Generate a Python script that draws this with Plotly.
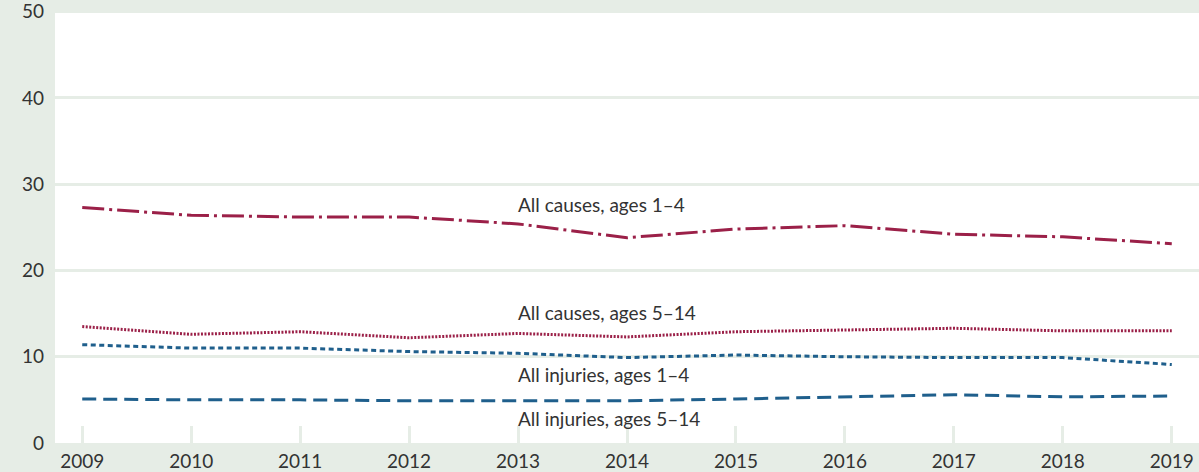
import plotly.graph_objects as go

years = list(range(2009, 2020))
causes_1_4 = [27.3, 26.4, 26.2, 26.2, 25.4, 23.8, 24.8, 25.2, 24.2, 23.9, 23.1]
causes_5_14 = [13.5, 12.6, 12.9, 12.2, 12.7, 12.3, 12.9, 13.1, 13.3, 13.0, 13.0]
injuries_1_4 = [11.4, 11.0, 11.0, 10.6, 10.4, 9.9, 10.2, 10.0, 9.9, 9.9, 9.1]
injuries_5_14 = [5.1, 5.0, 5.0, 4.9, 4.9, 4.9, 5.1, 5.35, 5.6, 5.35, 5.45]

label_names = ["All causes, ages 1\u20134", "All causes, ages 5\u201314",
               "All injuries, ages 1\u20134", "All injuries, ages 5\u201314"]
label_y = [27.6, 15.1, 8.0, 2.8]
label_x = 2012.98

CRIMSON = "#9b2048"
BLUE = "#1f5f8c"
TEXT = "#333333"
BG = "#e6ede6"
FONT = "Lato, 'DejaVu Sans', sans-serif"

fig = go.Figure()
series = [
    (causes_1_4, CRIMSON, "22px,5px,3px,5px"),
    (causes_5_14, CRIMSON, "2px,1.5px"),
    (injuries_1_4, BLUE, "5px,3.5px"),
    (injuries_5_14, BLUE, "14px,7px"),
]
for vals, col, dash in series:
    fig.add_trace(go.Scatter(x=years, y=vals, mode="lines",
                             line=dict(color=col, width=3, dash=dash),
                             hoverinfo="skip", showlegend=False))

for name, yv in zip(label_names, label_y):
    fig.add_annotation(x=label_x, y=yv, text=name, showarrow=False,
                       xanchor="left", yanchor="middle",
                       font=dict(size=19, color=TEXT, family=FONT))

fig.update_layout(
    width=1199, height=472,
    margin=dict(l=55, r=0, t=10, b=29, pad=0, autoexpand=False),
    paper_bgcolor=BG, plot_bgcolor="white",
    font=dict(family=FONT, size=19, color=TEXT),
    showlegend=False,
)
fig.update_xaxes(range=[2008.75, 2019.25], tickvals=years, automargin=False,
                 showgrid=False, zeroline=False, showline=False,
                 ticks="inside", ticklen=17, tickwidth=3, tickcolor=BG,
                 ticklabelstandoff=5, ticklabeloverflow="allow",
                 tickfont=dict(size=19, color=TEXT, family=FONT))
fig.update_yaxes(range=[0, 50.2], tickvals=[0, 10, 20, 30, 40, 50], automargin=False,
                 showgrid=True, gridcolor=BG, gridwidth=3,
                 zeroline=False, showline=False, ticklabelstandoff=10,
                 ticklabeloverflow="allow",
                 tickfont=dict(size=19, color=TEXT, family=FONT))

fig.write_html("out.html",
               config={"displayModeBar": False, "staticPlot": True},
               post_script="document.body.style.margin='0';document.body.style.overflow='hidden';")
